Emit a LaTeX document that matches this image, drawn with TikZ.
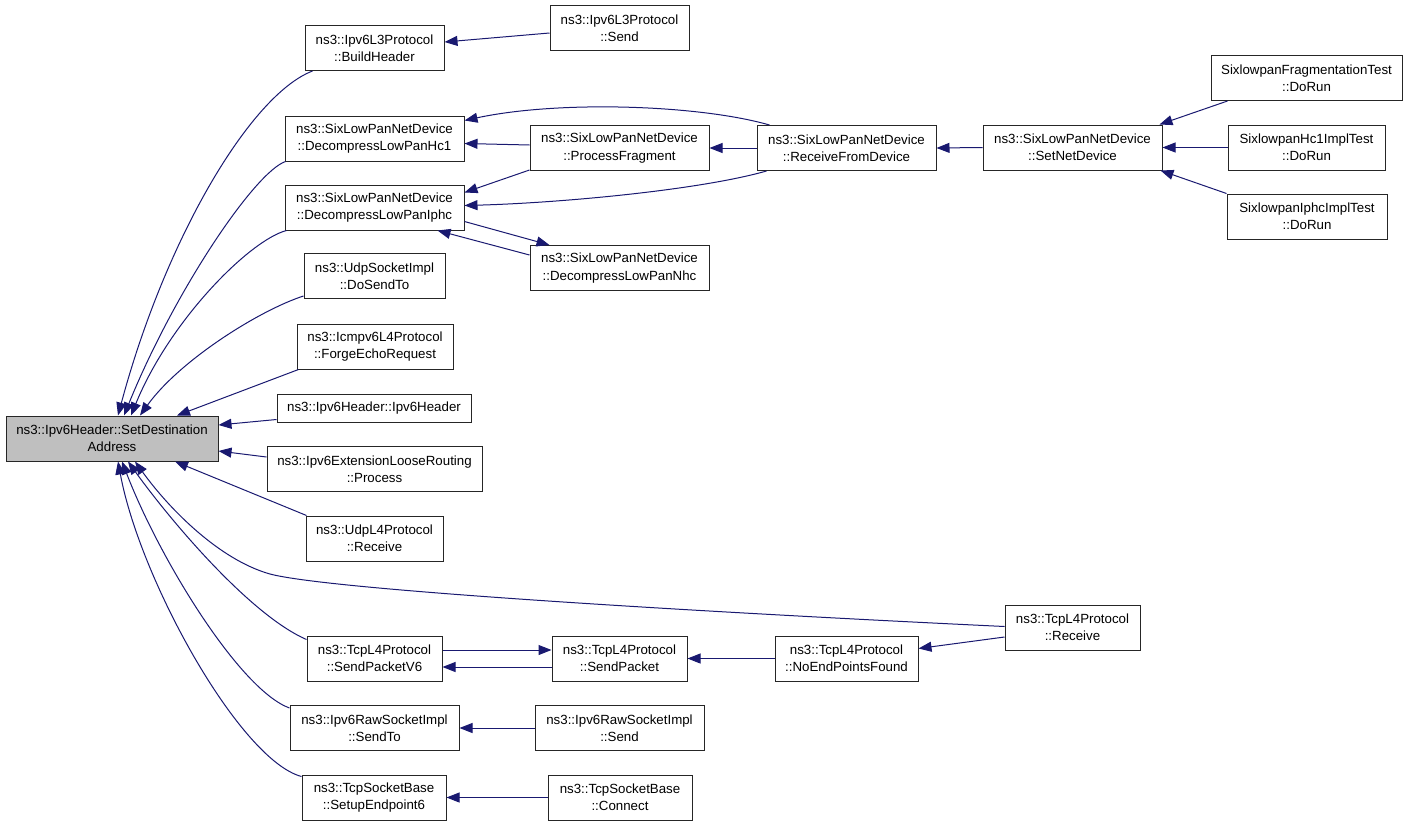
\documentclass[tikz,border=0pt]{standalone}
\usepackage{fontspec}
\setmainfont{Liberation Sans}
\usetikzlibrary{arrows.meta,calc}
\definecolor{edgec}{RGB}{25,25,112}
\definecolor{rootfill}{RGB}{191,191,191}
\begin{document}
\begin{tikzpicture}[x=1pt,y=-1pt,
  box/.style={draw=black!85, line width=1pt, fill=white, align=center, inner sep=0pt,
    font=\fontsize{13.3}{17.3}\selectfont, minimum height=45pt},
  edge/.style={draw=edgec, line width=1pt, -{Triangle[length=13pt,width=10pt]}}]
\useasboundingbox (0,0) rectangle (1408,825);
% nodes
\node[box, fill=rootfill, minimum width=212pt] (root) at (112,438.5) {ns3::Ipv6Header::SetDestination\\Address};
\node[box, minimum width=139pt] (bh) at (374.5,48) {ns3::Ipv6L3Protocol\\::BuildHeader};
\node[box, minimum width=139pt] (l3send) at (619.5,28) {ns3::Ipv6L3Protocol\\::Send};
\node[box, minimum width=179pt] (hc1) at (374.5,138.5) {ns3::SixLowPanNetDevice\\::DecompressLowPanHc1};
\node[box, minimum width=179pt] (iphc) at (374.5,207.5) {ns3::SixLowPanNetDevice\\::DecompressLowPanIphc};
\node[box, minimum width=179pt] (pf) at (619.5,148) {ns3::SixLowPanNetDevice\\::ProcessFragment};
\node[box, minimum width=179pt] (rfd) at (846.5,148) {ns3::SixLowPanNetDevice\\::ReceiveFromDevice};
\node[box, minimum width=179pt] (snd) at (1072.5,147.5) {ns3::SixLowPanNetDevice\\::SetNetDevice};
\node[box, minimum width=191pt] (fragt) at (1306.5,78) {SixlowpanFragmentationTest\\::DoRun};
\node[box, minimum width=157pt] (hc1t) at (1306.5,147.5) {SixlowpanHc1ImplTest\\::DoRun};
\node[box, minimum width=160pt] (iphct) at (1307,216.5) {SixlowpanIphcImplTest\\::DoRun};
\node[box, minimum width=179pt] (nhc) at (619.5,268) {ns3::SixLowPanNetDevice\\::DecompressLowPanNhc};
\node[box, minimum width=141pt] (udps) at (374.5,276) {ns3::UdpSocketImpl\\::DoSendTo};
\node[box, minimum width=156pt] (forge) at (375,346.5) {ns3::Icmpv6L4Protocol\\::ForgeEchoRequest};
\node[box, minimum width=194pt, minimum height=28pt] (ip6h) at (374,408) {ns3::Ipv6Header::Ipv6Header};
\node[box, minimum width=215pt] (loose) at (374.5,469) {ns3::Ipv6ExtensionLooseRouting\\::Process};
\node[box, minimum width=137pt] (udpl4) at (374.5,538.5) {ns3::UdpL4Protocol\\::Receive};
\node[box, minimum width=135pt] (tcprecv) at (1072.5,627.5) {ns3::TcpL4Protocol\\::Receive};
\node[box, minimum width=135pt] (spv6) at (374.5,658.5) {ns3::TcpL4Protocol\\::SendPacketV6};
\node[box, minimum width=135pt] (sp) at (619.5,658.5) {ns3::TcpL4Protocol\\::SendPacket};
\node[box, minimum width=143pt] (nepf) at (846.5,658.5) {ns3::TcpL4Protocol\\::NoEndPointsFound};
\node[box, minimum width=169pt] (rawto) at (374.5,728) {ns3::Ipv6RawSocketImpl\\::SendTo};
\node[box, minimum width=169pt] (rawsend) at (619.5,728) {ns3::Ipv6RawSocketImpl\\::Send};
\node[box, minimum width=144pt] (setup) at (374,797.5) {ns3::TcpSocketBase\\::SetupEndpoint6};
\node[box, minimum width=144pt] (connect) at (620,797.5) {ns3::TcpSocketBase\\::Connect};
% edges into root (top)
\draw[edge] ($(bh.south west)+(8,0)$) .. controls (250,95) and (165,240) .. ($(root.north)+(6,0)$);
\draw[edge] ($(hc1.south west)+(1,0)$) .. controls (255,172) and (175,290) .. ($(root.north)+(12,0)$);
\draw[edge] ($(iphc.south west)+(2,0)$) .. controls (250,240) and (170,320) .. ($(root.north)+(19,0)$);
\draw[edge] ($(udps.south west)+(0,-3)$) .. controls (260,310) and (180,360) .. ($(root.north)+(28,0)$);
\draw[edge] ($(forge.south west)+(2,0)$) -- ($(root.north)+(65,0)$);
\draw[edge] ($(ip6h.south west)+(0,-3)$) -- ($(root.east)+(0,-13.5)$);
\draw[edge] ($(loose.west)+(0,-12)$) -- ($(root.east)+(0,12.5)$);
% edges into root (bottom)
\draw[edge] ($(udpl4.north west)+(1,0)$) -- ($(root.south)+(63,0)$);
\draw[edge] ($(tcprecv.west)+(0,-1)$) .. controls (700,612) and (330,590) .. (270,574) .. controls (220,560) and (170,510) .. ($(root.south)+(23,0)$);
\draw[edge] ($(spv6.north west)+(0,4)$) .. controls (250,615) and (170,520) .. ($(root.south)+(16,0)$);
\draw[edge] ($(rawto.north west)+(0,3)$) .. controls (240,690) and (160,560) .. ($(root.south)+(10,0)$);
\draw[edge] ($(setup.north west)+(0,2)$) .. controls (240,760) and (140,580) .. ($(root.south)+(6,0)$);
% other edges
\draw[edge] ($(l3send.west)+(0,5)$) -- ($(bh.east)+(0,-6)$);
\draw[edge] ($(rfd.north west)+(13,0)$) .. controls (700,105) and (560,100) .. ($(hc1.east)+(0,-18)$);
\draw[edge] ($(pf.west)+(0,-3)$) -- ($(hc1.east)+(0,5)$);
\draw[edge] ($(pf.south west)+(0,-1)$) -- ($(iphc.east)+(0,-15)$);
\draw[edge] ($(rfd.south west)+(10,0)$) .. controls (700,190) and (560,203) .. ($(iphc.east)+(0,-2)$);
\draw[edge] ($(iphc.east)+(0,14)$) -- ($(nhc.north west)+(20,0)$);
\draw[edge] ($(nhc.west)+(0,-13)$) -- ($(iphc.south east)+(-27,0)$);
\draw[edge] (rfd.west) -- (pf.east);
\draw[edge] (snd.west) -- (rfd.east);
\draw[edge] ($(fragt.south west)+(17,0)$) -- ($(snd.north east)+(-3,0)$);
\draw[edge] (hc1t.west) -- (snd.east);
\draw[edge] (iphct.north west) -- ($(snd.south east)+(-2,0)$);
\draw[edge] ($(spv6.east)+(0,-8.5)$) -- ($(sp.west)+(0,-8.5)$);
\draw[edge] ($(sp.west)+(0,8.5)$) -- ($(spv6.east)+(0,8.5)$);
\draw[edge] (nepf.west) -- (sp.east);
\draw[edge] ($(tcprecv.west)+(0,9.5)$) -- ($(nepf.east)+(0,-10)$);
\draw[edge] (rawsend.west) -- (rawto.east);
\draw[edge] (connect.west) -- (setup.east);
\end{tikzpicture}
\end{document}
